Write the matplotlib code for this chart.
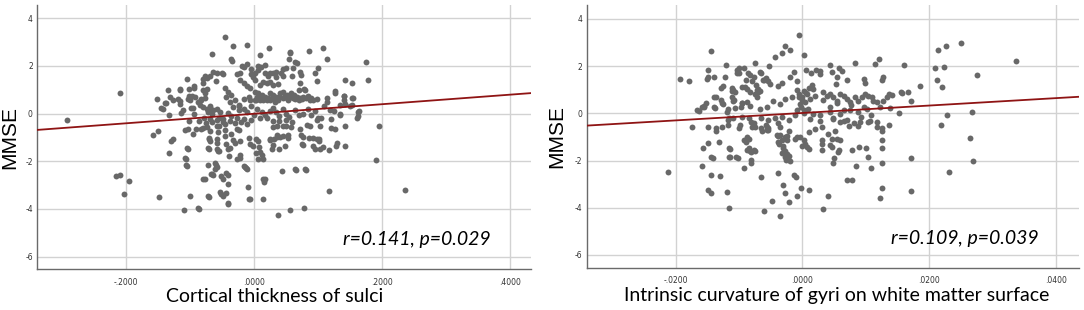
import numpy as np
import matplotlib.pyplot as plt

# --- data ---
# left panel: cortical thickness of sulci vs MMSE
sulci_pts = [
    (-0.292, -0.27), (-0.209, 0.88), (-0.216, -2.62), (-0.209, -2.58), (-0.203, -3.37), (-0.195, -2.83),
    (-0.149, -3.48), (-0.158, -0.91), (-0.150, -0.73), (-0.152, 0.60), (-0.145, 0.25), (-0.134, 1.00),
    (-0.138, 0.46), (-0.133, -0.07), (-0.133, -1.64), (-0.129, -1.15), (-0.126, -1.05), (-0.118, 0.60),
    (-0.116, 1.02), (-0.114, 0.04), (-0.109, -4.05), (-0.107, -1.85), (-0.106, -2.16), (-0.105, 1.44),
    (-0.105, -1.43), (-0.103, -0.66), (-0.102, -0.31), (-0.100, -3.46), (-0.103, 0.60), (-0.102, 1.02),
    (-0.099, 0.25), (-0.096, 0.74), (-0.095, -0.87), (-0.094, 1.16), (-0.093, -0.03), (-0.087, -3.96),
    (-0.083, 0.60), (-0.080, -0.59), (-0.079, -2.76), (-0.079, 1.44), (-0.078, -0.17), (-0.076, 1.58),
    (-0.074, 1.02), (-0.072, -3.46), (-0.072, -1.43), (-0.071, -2.16), (-0.070, -1.01), (-0.068, 0.32),
    (-0.067, -2.55), (-0.066, 2.50), (-0.064, 1.73), (-0.061, -2.34), (-0.060, -2.06), (-0.059, 1.37),
    (-0.058, -1.08), (-0.056, -1.57), (-0.055, -0.52), (-0.053, -3.30), (-0.052, -2.62), (-0.051, -3.39),
    (-0.049, -0.24), (-0.048, 1.66), (-0.045, 3.20), (-0.045, -0.94), (-0.044, -2.48), (-0.043, -3.32),
    (-0.041, -2.97), (-0.041, -3.74), (-0.040, 0.04), (-0.039, -1.78), (-0.038, -1.43), (-0.036, 2.29),
    (-0.034, 2.22), (-0.032, 2.82), (-0.030, -1.22), (-0.027, -1.92), (-0.026, -0.66), (-0.024, 0.32),
    (-0.021, -1.85), (-0.018, 2.01), (-0.016, -2.20), (-0.013, -2.27), (-0.010, 2.89), (-0.009, -3.09),
    (-0.007, -3.58), (-0.005, 1.66), (-0.001, -1.36), (0.003, -1.64), (0.007, -1.89), (0.010, 2.45),
    (0.014, -2.73), (0.014, -3.58), (0.016, -2.88), (0.024, 2.73), (0.025, -1.08), (0.030, -1.33),
    (0.036, -0.91), (0.037, -4.24), (0.044, -2.41), (0.048, -1.36), (0.053, -0.91), (0.056, 2.59),
    (0.057, -4.03), (0.060, 1.58), (0.064, -2.34), (0.065, 2.17), (0.071, 0.98), (0.075, -1.26),
    (0.078, -3.96), (0.079, 1.02), (0.080, -2.31), (0.086, 2.61), (0.092, -1.36), (0.096, 1.70),
    (0.100, 1.89), (0.099, 1.37), (0.102, -1.08), (0.108, 2.73), (0.114, 2.29), (0.117, -3.25),
    (0.118, -1.53), (0.120, -0.59), (0.126, 0.95), (0.127, -0.63), (0.129, -1.36), (0.130, -1.22),
    (0.134, -0.03), (0.141, 0.74), (0.142, 1.42), (0.143, -1.36), (0.142, -0.52), (0.154, 1.30),
    (0.154, 0.67), (0.162, -0.10), (0.164, 0.11), (0.175, 2.15), (0.178, 1.42), (0.191, -1.96),
    (0.195, -0.52), (0.236, -3.21),
    # dense middle
    (-0.050, 1.68), (-0.058, 1.71), (-0.068, 1.56), (-0.074, 1.49), (-0.080, 1.30), (-0.027, 1.64),
    (-0.022, 1.70), (-0.016, 1.93), (-0.011, 2.07), (-0.004, 1.85), (0.001, 1.68), (0.006, 1.99),
    (0.011, 1.93), (0.018, 2.03), (-0.093, 1.09), (-0.115, 0.98), (-0.131, 0.70), (-0.126, 0.56),
    (-0.139, 0.45), (-0.142, 0.21), (-0.116, 0.53), (-0.115, 0.39), (-0.111, 0.14), (-0.102, 0.73),
    (-0.100, 0.56), (-0.092, 0.70), (-0.095, 0.25), (-0.079, 0.98), (-0.077, 0.84), (-0.087, 0.49),
    (-0.082, 0.56), (-0.076, 0.63), (-0.084, 0.35), (-0.079, 0.28), (-0.074, 0.21), (-0.069, 0.25),
    (-0.064, 0.14), (-0.058, 0.17), (-0.053, 0.07), (-0.071, 0.07), (-0.066, 0.00), (-0.045, 1.05),
    (-0.040, 0.91), (-0.043, 0.70), (-0.035, 0.77), (-0.037, 0.49), (-0.030, 0.56), (-0.032, 0.28),
    (-0.024, 0.35), (-0.024, 0.14), (-0.016, 0.21), (-0.011, 0.07), (-0.022, 1.40), (-0.016, 1.26),
    (-0.011, 1.15), (-0.006, 1.05), (0.002, 0.91), (0.007, 0.84), (0.012, 0.77), (0.017, 0.70),
    (0.022, 0.63), (-0.006, 0.56), (0.001, 0.58), (0.004, 0.55), (0.009, 0.57), (0.015, 0.55),
    (0.020, 0.58), (0.025, 0.56), (0.007, 1.82), (0.017, 1.68), (0.022, 1.57), (0.015, 1.33),
    (0.020, 1.26), (0.009, 1.19), (-0.002, 1.54), (0.001, 1.40), (-0.069, -0.21), (-0.058, -0.28),
    (-0.048, -0.35), (-0.037, -0.31), (-0.027, -0.17), (-0.016, -0.21), (-0.004, -0.28), (0.009, -0.17),
    (0.020, -0.17), (0.057, 2.55), (0.055, 2.27), (0.067, 2.13), (0.045, 1.86), (0.050, 1.89),
    (0.043, 1.71), (0.035, 1.75), (0.030, 1.71), (0.025, 1.68), (0.061, 1.90), (0.072, 1.75),
    (0.074, 1.61), (0.072, 1.29), (0.035, 1.54), (0.046, 1.58), (0.038, 1.23), (0.030, 1.19),
    (0.025, 1.33), (0.025, 0.84), (0.030, 0.77), (0.035, 0.70), (0.041, 0.84), (0.046, 0.91),
    (0.051, 0.77), (0.056, 0.70), (0.061, 0.63), (0.067, 0.70), (0.072, 0.63), (0.077, 0.70),
    (0.082, 0.63), (0.088, 0.56), (0.093, 0.56), (0.080, 0.98), (0.038, 0.56), (0.054, 0.56),
    (0.033, 0.49), (0.045, 0.63), (0.062, 0.77), (0.085, 0.72), (0.070, 0.55), (0.048, 0.72),
    (0.058, 0.85), (0.127, 0.87), (0.141, 0.73), (0.141, 0.56), (0.155, 0.63), (0.115, 0.63),
    (0.115, 0.49), (0.119, 0.14), (0.134, 0.35), (0.142, 0.39), (0.150, 0.31), (0.153, 0.35),
    (0.163, 0.06), (0.161, -0.18), (0.077, 0.00), (0.098, -0.28), (0.105, -0.17), (0.134, -0.07),
    (0.083, -0.49), (0.030, -0.31), (0.040, -0.31), (0.050, -0.28), (0.060, -0.35), (0.030, -0.56),
    (0.036, -0.52), (0.045, -0.52), (0.050, -0.52), (0.058, -0.58), (0.072, -0.66), (0.074, -0.88),
    (0.077, -0.98), (0.088, -0.52), (0.103, -0.52), (0.036, -0.98), (0.041, -0.98), (0.046, -0.96),
    (0.054, -1.02), (0.031, -1.05), (0.025, -1.12), (0.028, -1.47), (0.077, -1.30), (0.086, -1.02),
    (0.093, -1.02), (0.098, -1.08), (0.102, -1.15), (0.095, -1.47), (0.103, -1.50), (0.108, -1.40),
    (0.040, -1.50), (0.066, -2.38), (0.081, -2.35), (-0.108, -0.70), (-0.103, -1.50), (-0.106, -1.89),
    (-0.104, -2.21), (-0.091, -0.63), (-0.082, -0.66), (-0.074, -0.56), (-0.069, -0.74), (-0.058, -0.52),
    (-0.056, -0.77), (-0.045, -0.70), (-0.035, -0.84), (-0.024, -0.70), (-0.022, -1.16), (-0.032, -1.12),
    (-0.043, -1.26), (-0.040, -1.50), (-0.054, -1.58), (-0.058, -1.50), (-0.057, -1.22), (-0.070, -1.08),
    (-0.068, -1.16), (-0.070, -1.47), (-0.022, -1.72), (-0.014, -2.24), (-0.010, -2.34), (-0.008, -1.02),
    (-0.006, -1.26), (0.004, -1.05), (0.007, -1.16), (0.008, -1.40), (0.009, -1.61), (0.012, -1.75),
    (0.015, -1.89), (-0.059, -2.14), (-0.058, -2.24), (-0.066, -2.52), (-0.064, -2.59), (-0.077, -2.76),
    (-0.048, -2.73), (-0.041, -2.56), (-0.048, -3.46), (-0.040, -3.81), (-0.070, -3.48), (-0.085, -3.99),
    (-0.006, -3.60), (0.018, -2.73), (-0.005, 0.30), (0.005, 0.20), (0.012, 0.05), (0.018, -0.05),
    (0.025, 0.10), (0.030, 0.25), (0.035, 0.05), (0.040, -0.10), (0.045, 0.20), (0.050, 0.00),
    (0.055, -0.15), (0.065, 0.15), (0.070, -0.05), (0.085, 0.20), (0.090, -0.05), (0.095, 0.10),
    (0.100, -0.20), (0.110, 0.30), (0.120, -0.25), (0.125, 0.10), (-0.085, -0.30), (-0.075, -0.40),
    (-0.065, -0.35), (-0.055, -0.20), (-0.045, -0.45), (-0.035, -0.10), (-0.030, -0.40), (-0.020, -0.35),
    (-0.010, -0.45), (0.000, -0.05),
    # the heavy band just above the line
    (-0.015, 0.62), (-0.008, 0.68), (0.005, 0.70), (0.028, 0.66), (0.040, 0.70), (0.052, 0.64),
    (0.064, 0.60), (0.075, 0.62), (0.090, 0.66), (0.098, 0.62), (0.010, 0.64), (0.033, 0.60),
]

# right panel: intrinsic curvature of gyri vs MMSE
gyri_pts = [
    (-0.0213, -2.49), (-0.0194, 1.45), (-0.0179, 1.38), (-0.0175, -0.59), (-0.0167, 0.14), (-0.0158, 0.25),
    (-0.0156, 0.28), (-0.0157, -1.48), (-0.0158, -2.25), (-0.0150, 1.83), (-0.0149, 1.52), (-0.0151, 1.44),
    (-0.0149, -0.56), (-0.0149, -1.24), (-0.0150, -3.24), (-0.0145, -3.38), (-0.0144, 2.65), (-0.0144, -1.83),
    (-0.0144, -2.61), (-0.0139, 0.70), (-0.0139, 1.55), (-0.0139, 0.25), (-0.0137, -0.63), (-0.0136, -0.77),
    (-0.0132, -1.20), (-0.0131, -2.65), (-0.0128, 1.06), (-0.0126, 1.15), (-0.0128, 0.56), (-0.0127, 0.42),
    (-0.0123, 1.55), (-0.0121, 2.04), (-0.0120, -3.35), (-0.0117, 0.17), (-0.0120, 0.07), (-0.0116, -0.21),
    (-0.0117, -0.49), (-0.0116, -1.48), (-0.0116, -1.83), (-0.0116, -4.01), (-0.0112, 1.06), (-0.0109, 0.99),
    (-0.0112, 0.70), (-0.0108, 0.56), (-0.0105, -1.83), (-0.0103, 1.83), (-0.0104, 1.69), (-0.0101, 1.90),
    (-0.0101, -0.63), (-0.0099, -0.49), (-0.0097, 0.28), (-0.0096, 0.42), (-0.0093, -1.13), (-0.0090, -1.20),
    (-0.0087, -0.99), (-0.0085, -1.10), (-0.0093, -2.32), (-0.0091, 1.13), (-0.0089, 1.41), (-0.0086, 1.72),
    (-0.0083, 1.62), (-0.0085, -1.48), (-0.0082, -1.62), (-0.0081, -1.97), (-0.0081, -2.11), (-0.0077, -1.55),
    (-0.0075, 2.15), (-0.0074, 1.20), (-0.0072, 0.99), (-0.0071, 0.92), (-0.0067, 1.76), (-0.0066, -2.68),
    (-0.0061, -4.15), (-0.0060, 1.41), (-0.0057, 1.48), (-0.0056, -0.56), (-0.0055, -0.70), (-0.0053, 2.00),
    (-0.0048, -3.73), (-0.0044, 2.39), (-0.0041, -0.92), (-0.0039, -1.20), (-0.0039, -2.54), (-0.0037, -1.30),
    (-0.0033, -1.69), (-0.0030, -1.48), (-0.0028, -1.83), (-0.0026, -1.97), (-0.0024, -1.94), (-0.0036, -4.37),
    (-0.0033, 2.54), (-0.0028, 2.85), (-0.0030, -3.03), (-0.0028, -3.38), (-0.0027, -0.99), (-0.0025, -1.13),
    (-0.0022, -3.77), (-0.0019, 2.68), (-0.0014, -2.61), (-0.0010, -2.68), (-0.0008, -3.52), (-0.0003, -3.17),
    (-0.0005, 3.31), (0.0003, 2.46), (0.0010, -3.24), (0.0005, 1.83), (0.0014, 1.69), (0.0022, 1.83),
    (0.0027, 1.66), (0.0032, -4.06), (0.0040, -3.52), (0.0044, 2.04), (0.0046, 1.76), (0.0049, -2.11),
    (0.0050, -1.90), (0.0056, -1.62), (0.0057, -1.55), (0.0057, 1.90), (0.0070, 1.41), (0.0071, -2.82),
    (0.0078, -2.82), (0.0079, -1.55), (0.0083, 2.15), (0.0084, -2.25), (0.0089, -1.41), (0.0098, 1.45),
    (0.0100, -1.45), (0.0104, -1.86), (0.0109, -2.32), (0.0115, 2.11), (0.0121, 2.32), (0.0122, -3.59),
    (0.0125, -3.17), (0.0125, -2.11), (0.0126, -1.48), (0.0126, -1.13), (0.0126, -0.77), (0.0126, -0.63),
    (0.0125, 1.41), (0.0127, 1.52), (0.0134, 0.70), (0.0137, 0.80), (0.0137, -0.49), (0.0139, 0.21),
    (0.0142, 0.77), (0.0152, 0.00), (0.0156, 0.92), (0.0158, 0.85), (0.0161, 2.04), (0.0167, 0.92),
    (0.0171, 0.54), (0.0172, -1.90), (0.0172, -3.28), (0.0186, 1.15), (0.0210, 1.94), (0.0212, 1.41),
    (0.0214, 2.70), (0.0219, -0.51), (0.0220, 1.13), (0.0223, 1.97), (0.0227, 2.85), (0.0228, -0.07),
    (0.0232, -2.49), (0.0251, 2.99), (0.0265, -1.06), (0.0268, 0.04), (0.0270, -2.04), (0.0276, 1.62),
    (0.0337, 2.21),
    # dense middle
    (-0.0092, 1.91), (-0.0100, 1.71), (-0.0077, 1.52), (-0.0080, 1.38), (-0.0065, 1.69), (-0.0063, 1.41),
    (-0.0054, 1.38), (-0.0112, 0.96), (-0.0106, 0.89), (-0.0096, 1.10), (-0.0088, 1.03), (-0.0083, 0.89),
    (-0.0071, 1.03), (-0.0067, 0.96), (-0.0075, 0.82), (-0.0072, 0.68), (-0.0051, 1.24), (-0.0038, 1.17),
    (-0.0033, 1.27), (-0.0019, 1.52), (-0.0009, 1.38), (-0.0014, 1.73), (-0.0136, 0.68), (-0.0152, 0.42),
    (-0.0156, 0.33), (-0.0164, 0.11), (-0.0138, 0.23), (-0.0125, 0.40), (-0.0109, 0.51), (-0.0106, 0.23),
    (-0.0096, 0.42), (-0.0088, 0.47), (-0.0083, 0.33), (-0.0067, 0.18), (-0.0056, 0.25), (-0.0046, 0.54),
    (-0.0035, 0.40), (-0.0027, 0.61), (-0.0017, 0.68), (-0.0006, 0.82), (0.0062, 1.81), (0.0028, 1.81),
    (0.0054, 1.52), (0.0053, 1.24), (0.0099, 1.27), (0.0015, 1.21), (0.0002, 0.96), (-0.0001, 0.68),
    (0.0007, 0.82), (0.0017, 1.03), (0.0020, 0.75), (0.0012, 0.61), (0.0004, 0.47), (-0.0004, 0.40),
    (0.0033, 0.89), (0.0039, 0.75), (0.0044, 0.82), (0.0049, 0.68), (0.0054, 0.54), (0.0060, 0.82),
    (0.0065, 0.75), (0.0070, 0.61), (0.0075, 0.47), (0.0083, 0.68), (0.0088, 0.54), (0.0094, 0.68),
    (0.0099, 0.82), (0.0104, 0.75), (0.0110, 0.68), (0.0112, 0.54), (0.0118, 0.47), (0.0128, 0.54),
    (0.0002, 0.12), (0.0017, -0.02), (0.0028, -0.09), (0.0044, 0.05), (0.0060, -0.02), (0.0075, 0.12),
    (0.0102, 0.19), (0.0123, 0.26), (0.0012, -0.24), (0.0028, -0.31), (0.0049, -0.24), (0.0065, -0.31),
    (0.0091, -0.38), (0.0107, -0.31), (0.0118, -0.38), (-0.0127, -0.59), (-0.0075, -0.59), (-0.0064, -0.73),
    (-0.0056, -0.69), (-0.0054, -0.63), (-0.0035, -0.59), (-0.0038, -0.94), (-0.0025, -0.94), (-0.0022, -0.73),
    (-0.0142, -1.89), (-0.0114, -1.51), (-0.0114, -1.86), (-0.0102, -1.89), (-0.0088, -1.54), (-0.0083, -1.58),
    (-0.0075, -1.58), (-0.0036, -0.91), (-0.0033, -1.15), (-0.0030, -1.37), (-0.0027, -1.58), (-0.0025, -1.72),
    (-0.0022, -1.82), (-0.0019, -2.00), (-0.0011, -1.08), (-0.0009, -1.01), (0.0010, -0.80), (0.0020, -0.66),
    (0.0031, -0.59), (0.0041, -0.87), (0.0052, -0.73), (0.0054, -1.08), (0.0046, -1.08), (0.0031, -1.15),
    (0.0031, -1.30), (0.0044, -1.34), (0.0046, -1.44), (0.0031, -1.54), (0.0059, -1.11), (0.0073, -0.52),
    (0.0088, -0.52), (0.0118, -0.59), (-0.0004, -1.01), (0.0002, -1.15), (0.0004, -1.29), (0.0007, -1.44),
    (0.0010, -1.51), (-0.0001, -1.37), (-0.0117, -0.28), (-0.0109, -0.19), (-0.0096, -0.14), (-0.0085, -0.19),
    (-0.0082, -0.35), (-0.0077, -0.42), (-0.0066, -0.21), (-0.0055, -0.28), (-0.0044, -0.21), (-0.0033, -0.14),
    (-0.0022, -0.28), (-0.0011, -0.07), (-0.0079, -0.56), (-0.0066, -0.63), (-0.0057, -0.49), (-0.0038, -0.42),
    (-0.0008, 0.14), (-0.0003, 0.28), (0.0003, 0.03), (0.0008, 0.17), (0.0000, 0.56), (-0.0005, 0.70),
    (0.0005, 0.85), (-0.0008, 0.99), (0.0011, 1.06), (0.0033, 0.56), (0.0044, 0.28), (0.0055, 0.42),
    (0.0066, 0.14), (0.0077, 0.35), (0.0087, 0.07), (0.0098, 0.28), (0.0109, -0.07), (0.0049, -0.21),
    (0.0060, -0.35), (0.0071, -0.28), (0.0082, -0.42), (0.0093, -0.14), (0.0104, -0.35),
]

# fitted lines as drawn (slope, intercept)
sulci_fit = (2.0, -0.01)
gyri_fit = (15.7, 0.015)

sulci_ticks = [-0.2, 0.0, 0.2, 0.4]
sulci_ticklabels = ['-.2000', '.0000', '.2000', '.4000']
gyri_ticks = [-0.02, 0.0, 0.02, 0.04]
gyri_ticklabels = ['-.0200', '.0000', '.0200', '.0400']
mmse_ticks = [-6, -4, -2, 0, 2, 4]

sulci_x, sulci_y = np.array(sulci_pts).T
gyri_x, gyri_y = np.array(gyri_pts).T

fig = plt.figure(figsize=(10.84, 3.10), dpi=100)
ax1 = fig.add_axes([0.0341, 0.1313, 0.4557, 0.8526])
ax2 = fig.add_axes([0.5412, 0.1365, 0.4542, 0.8474])

panels = [
    (ax1, sulci_x, sulci_y, sulci_fit, sulci_ticks, sulci_ticklabels, (-0.339, 0.433), (-6.53, 4.55),
     'Cortical thickness of sulci', 0.482, 'r=0.141, p=0.029'),
    (ax2, gyri_x, gyri_y, gyri_fit, gyri_ticks, gyri_ticklabels, (-0.0341, 0.0437), (-6.54, 4.59),
     'Intrinsic curvature of gyri on white matter surface', 0.508, 'r=0.109, p=0.039'),
]

for ax, xs, ys, fit, xt, xtl, xl, yl, xlabel, xlab_pos, rtext in panels:
    ax.scatter(xs, ys, s=18, color='#686868', linewidths=0, zorder=3)
    ax.axline((0, fit[1]), slope=fit[0], color='#8f1414', lw=1.3, zorder=4)
    ax.set_xlim(*xl)
    ax.set_ylim(*yl)
    ax.set_xticks(xt)
    ax.set_xticklabels(xtl)
    ax.set_yticks(mmse_ticks)
    ax.set_yticklabels([str(t) for t in mmse_ticks])
    ax.tick_params(length=0, labelsize=5.5, colors='#333333')
    ax.tick_params(axis='x', pad=6)
    ax.tick_params(axis='y', pad=3)
    ax.grid(True, color='#d2d2d2', lw=1.0, zorder=0)
    ax.set_axisbelow(True)
    for side in ['top', 'right']:
        ax.spines[side].set_visible(False)
    for side in ['left', 'bottom']:
        ax.spines[side].set_color('#6a6a6a')
        ax.spines[side].set_linewidth(1.0)
    ax.set_ylabel('MMSE', fontsize=15, family='Liberation Sans', color='black')
    ax.set_xlabel(xlabel, fontsize=14, family='Lato', color='black')
    ax.xaxis.set_label_coords(xlab_pos, -0.072)
    ax.text(0.918, 0.112, rtext, transform=ax.transAxes, ha='right', va='center',
            fontsize=14, family='Lato', style='italic', color='black')

ax1.yaxis.set_label_coords(-0.036, 0.5)
ax2.yaxis.set_label_coords(-0.042, 0.5)

plt.savefig('out.png', dpi=100)
